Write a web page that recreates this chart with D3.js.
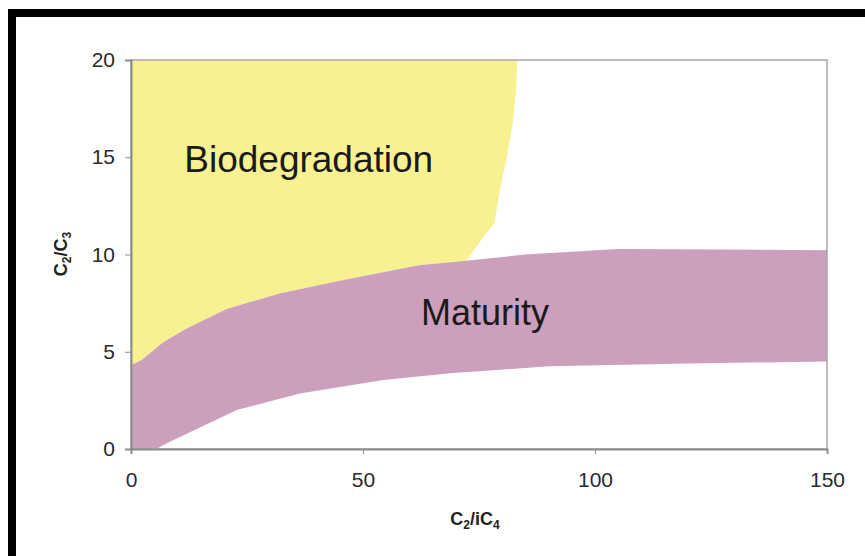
<!DOCTYPE html>
<html>
<head>
<meta charset="utf-8">
<script src="https://cdn.jsdelivr.net/npm/d3@7"></script>
<style>
  html, body { margin: 0; padding: 0; background: #fff; }
  svg { display: block; font-family: "Liberation Sans", Arial, sans-serif; }
</style>
</head>
<body>
<svg id="chart" width="865" height="556"></svg>
<script>
// ---- data ----
const xTicks = [0, 50, 100, 150];
const yTicks = [0, 5, 10, 15, 20];

// Maturity band: upper and lower boundaries [C2/iC4, C2/C3]
const maturityUpper = [[0, 4.3], [2.3, 4.57], [7, 5.5], [12, 6.2], [20.6, 7.2], [32, 8.0], [45, 8.65], [62, 9.45], [72.3, 9.68], [85, 10.0], [105, 10.28], [150, 10.22]];
const maturityLower = [[0, 0], [5.5, 0], [7.7, 0.3], [22.8, 2.0], [36.4, 2.85], [54.4, 3.55], [68.8, 3.9], [90, 4.25], [120, 4.4], [150, 4.5]];

// Biodegradation zone right boundary (top to bottom)
const bioRight = [[83.3, 20], [83.0, 18.5], [82.3, 16.8], [81.0, 15], [79.5, 13.3], [78.3, 11.6], [76.6, 11.1], [72.3, 9.68]];

const labels = [
  { text: "Biodegradation", x: 38.3, y: 14.25, size: 37 },
  { text: "Maturity", x: 76.3, y: 6.4, size: 36 }
];

// ---- layout ----
const svg = d3.select("#chart");
const W = 865, H = 556;
const plot = { left: 131, right: 827, top: 60, bottom: 449 };

const x = d3.scaleLinear().domain([0, 150]).range([plot.left, plot.right]);
const y = d3.scaleLinear().domain([0, 20]).range([plot.bottom, plot.top]);

// black frame (top and left)
svg.append("rect").attr("x", 8).attr("y", 9).attr("width", W - 8).attr("height", 8).attr("fill", "#000");
svg.append("rect").attr("x", 8).attr("y", 9).attr("width", 8).attr("height", H - 9).attr("fill", "#000");

const line = d3.line().x(d => x(d[0])).y(d => y(d[1])).curve(d3.curveLinear);

// biodegradation polygon
const upperBelowBio = maturityUpper.filter(d => d[0] <= 72.3).slice().reverse();
const bioPoly = [[0, 20]].concat(bioRight, upperBelowBio.slice(1), [[0, 20]]);
svg.append("path")
  .attr("d", line(bioPoly) + "Z")
  .attr("fill", "#F7F192");

// maturity polygon
const matPoly = maturityUpper.concat(maturityLower.slice().reverse());
svg.append("path")
  .attr("d", line(matPoly) + "Z")
  .attr("fill", "#CC9FBC");

// plot frame
svg.append("rect")
  .attr("x", plot.left).attr("y", plot.top)
  .attr("width", plot.right - plot.left).attr("height", plot.bottom - plot.top)
  .attr("fill", "none").attr("stroke", "#a6a6a6").attr("stroke-width", 1.5);

// axes
const xAxis = d3.axisBottom(x).tickValues(xTicks).tickSize(5).tickPadding(18).tickFormat(d3.format("d"));
const yAxis = d3.axisLeft(y).tickValues(yTicks).tickSize(6).tickPadding(10).tickFormat(d3.format("d"));

const gx = svg.append("g").attr("transform", `translate(0,${plot.bottom})`).call(xAxis);
const gy = svg.append("g").attr("transform", `translate(${plot.left},0)`).call(yAxis);

[gx, gy].forEach(g => {
  g.select(".domain").attr("stroke", "#8c8c8c").attr("stroke-width", 2);
  g.selectAll(".tick line").attr("stroke", "#8c8c8c").attr("stroke-width", 1);
  g.selectAll(".tick text").attr("fill", "#2a2a2a").style("font-size", "21px")
    .style("font-family", "'Liberation Sans', Arial, sans-serif");
});

// region labels
svg.selectAll("text.region").data(labels).enter().append("text")
  .attr("class", "region")
  .attr("x", d => x(d.x)).attr("y", d => y(d.y))
  .attr("text-anchor", "middle")
  .style("font-size", d => d.size + "px")
  .attr("fill", "#1a1a1a")
  .text(d => d.text);

// axis titles
const xt = svg.append("text").attr("x", 475).attr("y", 525).attr("text-anchor", "middle")
  .style("font-size", "18px").style("font-weight", "bold").attr("fill", "#222");
xt.append("tspan").text("C");
xt.append("tspan").text("2").attr("dy", 4).style("font-size", "12px");
xt.append("tspan").text("/iC").attr("dy", -4);
xt.append("tspan").text("4").attr("dy", 4).style("font-size", "12px");

const yt = svg.append("text").attr("transform", "translate(67,254) rotate(-90)").attr("text-anchor", "middle")
  .style("font-size", "18px").style("font-weight", "bold").attr("fill", "#222");
yt.append("tspan").text("C");
yt.append("tspan").text("2").attr("dy", 4).style("font-size", "12px");
yt.append("tspan").text("/C").attr("dy", -4);
yt.append("tspan").text("3").attr("dy", 4).style("font-size", "12px");
</script>
</body>
</html>
